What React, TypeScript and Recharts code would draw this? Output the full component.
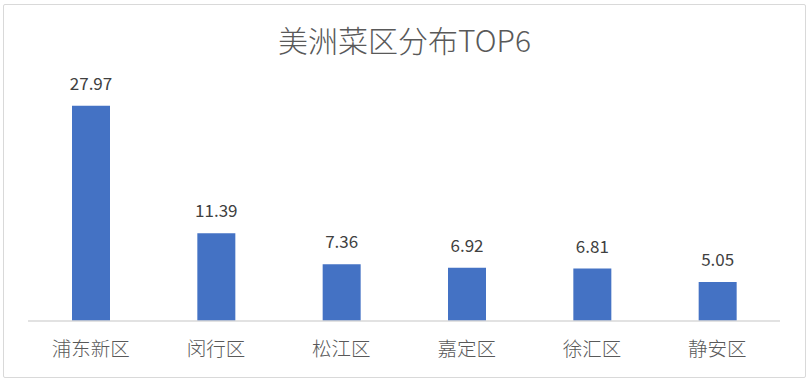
import React from "react";
import { BarChart, Bar, XAxis, YAxis, LabelList } from "recharts";

const categories = ["浦东新区", "闵行区", "松江区", "嘉定区", "徐汇区", "静安区"];
const values = [27.97, 11.39, 7.36, 6.92, 6.81, 5.05];
const title = "美洲菜区分布TOP6";

const data = categories.map((name, i) => ({ name, value: values[i] }));

const FONT = "'Noto Sans CJK SC', 'Noto Sans', sans-serif";

export default function App() {
  return (
    <div style={{ position: "fixed", left: 0, top: 0, width: 809, height: 381, background: "#fff", fontFamily: FONT }}>
      <div
        style={{
          position: "absolute",
          left: 3,
          top: 4,
          width: 801,
          height: 372,
          border: "1px solid #d9d9d9",
          borderRadius: 2,
        }}
      />
      <div
        style={{
          position: "absolute",
          left: 0,
          width: 809,
          top: 19,
          textAlign: "center",
          fontSize: 30,
          fontWeight: 300,
          lineHeight: "40px",
          color: "#595959",
        }}
      >
        {title}
      </div>
      <div style={{ position: "absolute", left: 0, top: 0 }}>
        <BarChart width={809} height={381} data={data} margin={{ top: 90, right: 29, bottom: 20, left: 28 }}>
          <XAxis
            dataKey="name"
            axisLine={{ stroke: "#d9d9d9", strokeWidth: 1.5 }}
            tickLine={false}
            height={40}
            tickMargin={15}
            tick={{ fill: "#595959", fontSize: 19.5, fontWeight: 300, fontFamily: FONT }}
            interval={0}
          />
          <YAxis hide domain={[0, 30]} />
          <Bar dataKey="value" fill="#4472C4" barSize={38} isAnimationActive={false}>
            <LabelList
              dataKey="value"
              position="top"
              offset={16}
              fill="#404040"
              fontSize={17}
              fontFamily={FONT}
            />
          </Bar>
        </BarChart>
      </div>
    </div>
  );
}
